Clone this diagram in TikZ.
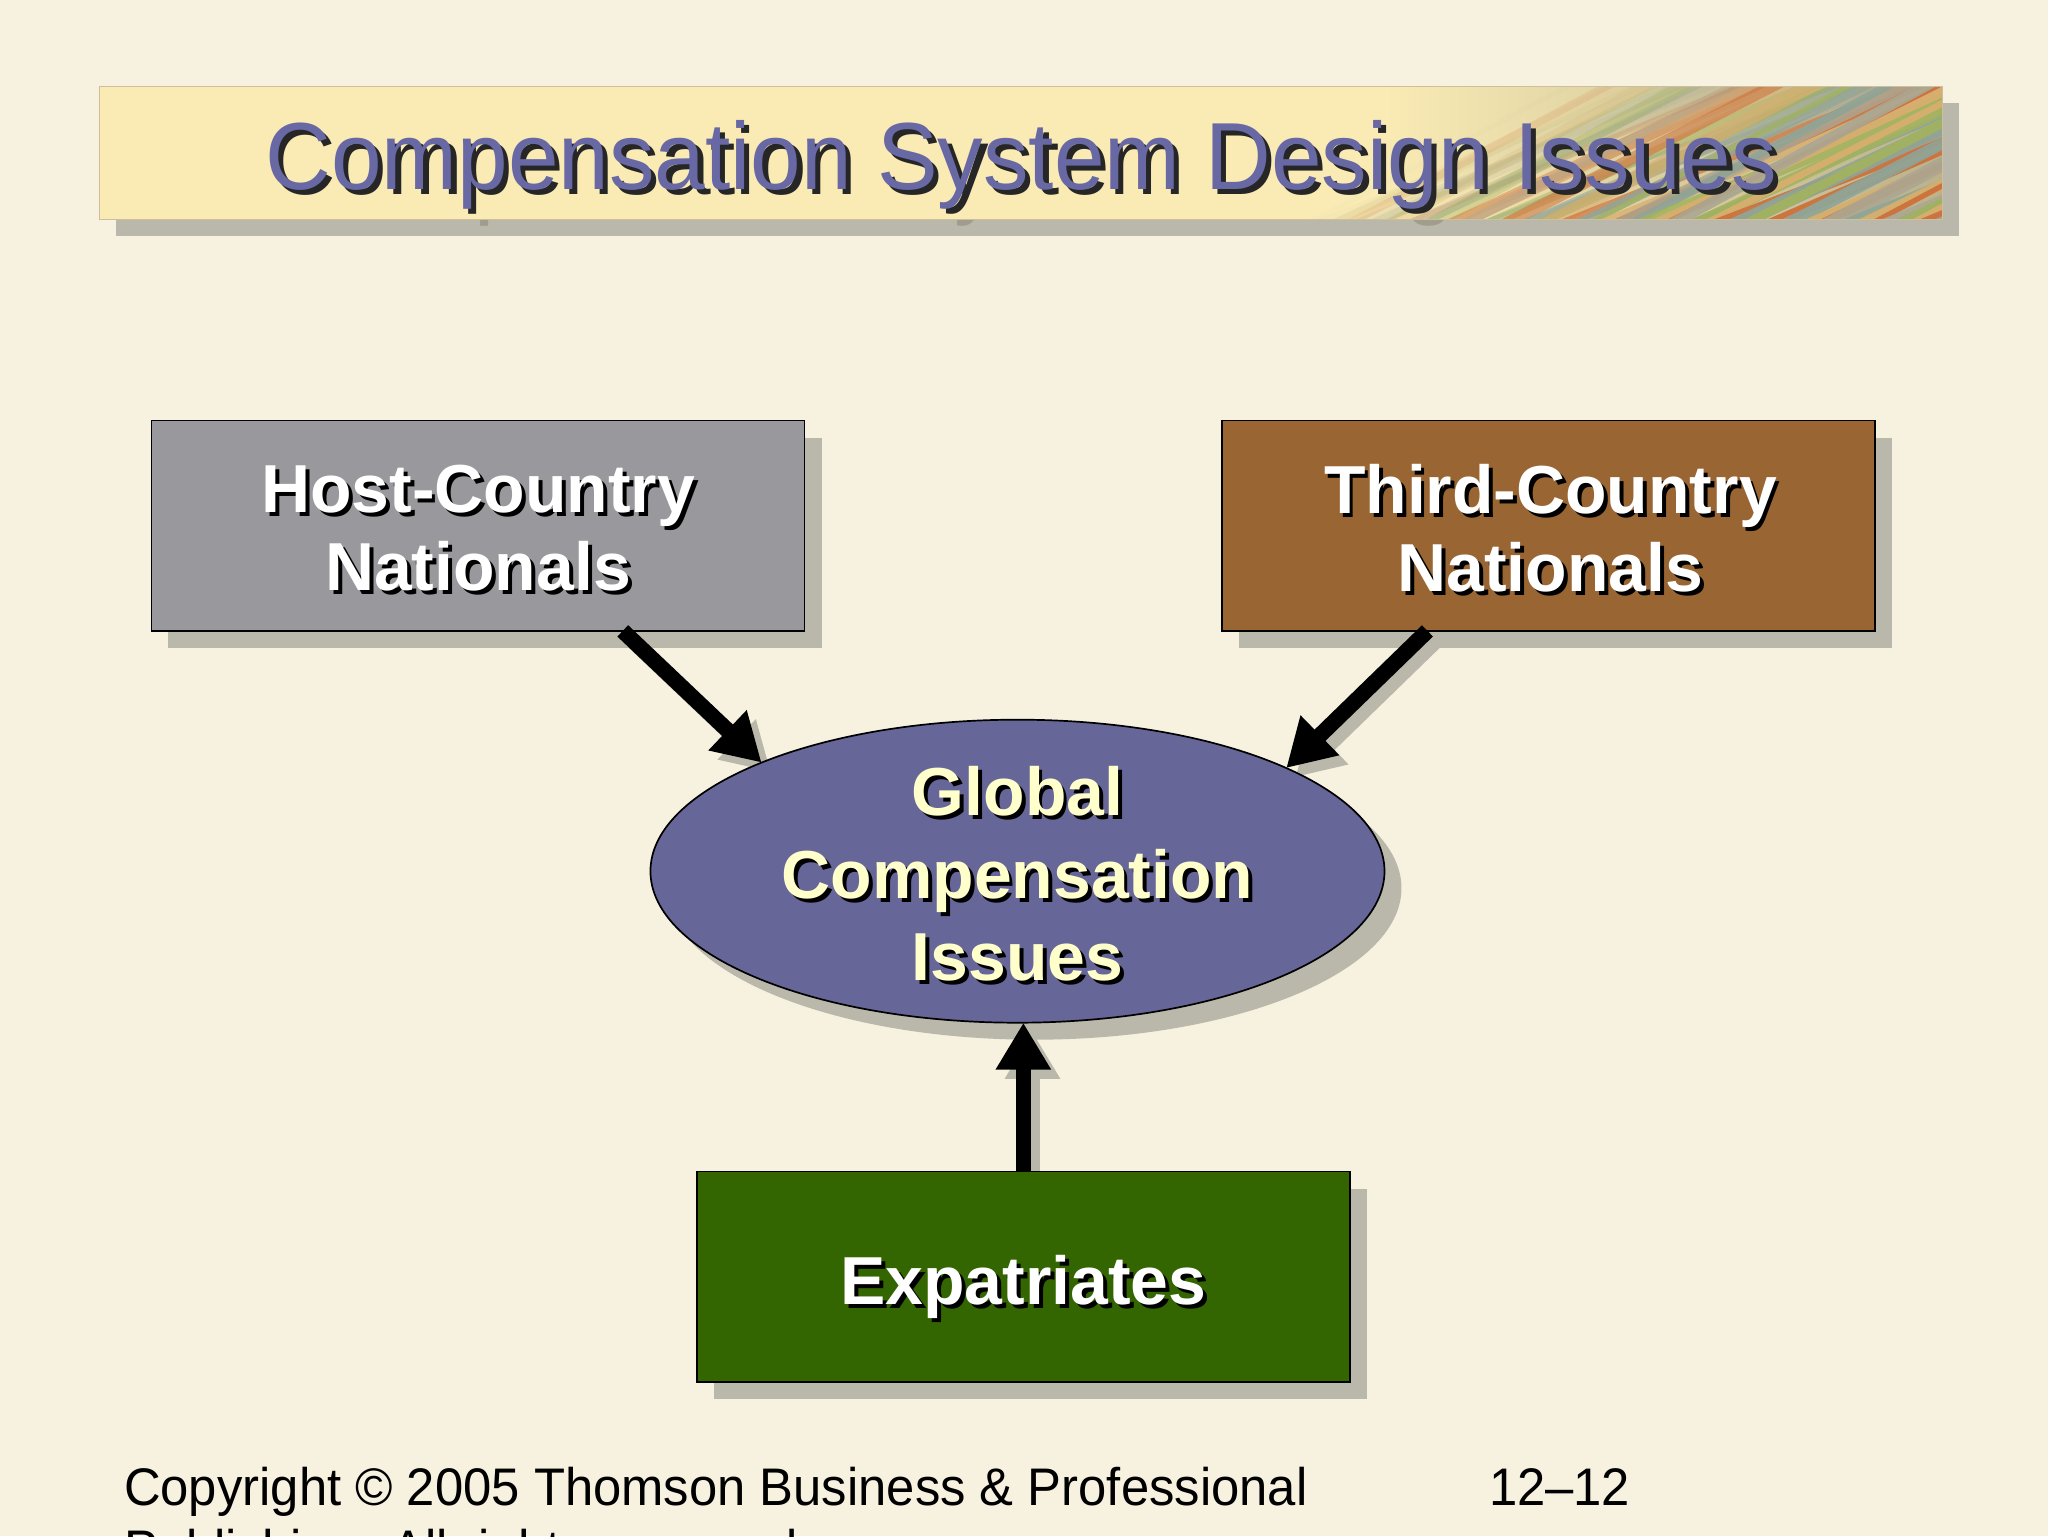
\documentclass[tikz,border=0pt]{standalone}
\usepackage{fontspec}
\setmainfont{Liberation Sans}
\newfontfamily\titlefont[FakeStretch=0.954]{Liberation Sans}
\newfontfamily\footfont[FakeStretch=0.96]{Liberation Sans}
\usetikzlibrary{shapes.geometric,shadows,arrows.meta,calc}
\definecolor{bg}{HTML}{F7F1DF}
\definecolor{shadowc}{HTML}{BAB7AB}
\definecolor{ghost}{HTML}{A09D8F}
\definecolor{hostc}{HTML}{99989C}
\definecolor{thirdc}{HTML}{996633}
\definecolor{expc}{HTML}{336600}
\definecolor{globc}{HTML}{666699}
\definecolor{titlec}{HTML}{6868A4}
\definecolor{globtext}{HTML}{FFFFCC}
\definecolor{bannerl}{HTML}{FAEBB4}
\definecolor{bannerr}{HTML}{B9B28C}
\definecolor{bannerline}{HTML}{CDBE9E}
\definecolor{tex0}{HTML}{CC6E3A}
\definecolor{tex1}{HTML}{A3B35E}
\definecolor{tex2}{HTML}{ABA793}
\definecolor{tex3}{HTML}{D9AE6E}
\definecolor{tex4}{HTML}{8FA496}
\pgfdeclarelayer{bglayer}
\pgfdeclarelayer{shlayer}
\pgfsetlayers{bglayer,shlayer,main}
\tikzset{
  box/.style={rectangle, draw=black, line width=1.3pt, inner sep=0pt, outer sep=0pt,
    minimum width=500pt, minimum height=161pt,
    drop shadow={shadow xshift=13pt, shadow yshift=-13pt, fill=shadowc, opacity=1}},
  oval/.style={ellipse, draw=black, line width=1.3pt, fill=globc, inner sep=0pt, outer sep=0pt,
    minimum width=562pt, minimum height=232pt,
    drop shadow={shadow xshift=13pt, shadow yshift=-13pt, fill=shadowc, opacity=1}},
  btxt/.style={font=\bfseries\fontsize{52}{60}\selectfont, align=center, inner sep=0pt, outer sep=0pt},
  otxt/.style={font=\bfseries\fontsize{52}{63}\selectfont, align=center, inner sep=0pt, outer sep=0pt},
  ttxt/.style={font=\titlefont\fontsize{73}{80}\selectfont, inner sep=0pt, outer sep=0pt, anchor=base},
  ftxt/.style={font=\footfont\fontsize{40.5}{47}\selectfont, text=black, inner sep=0pt, outer sep=0pt, anchor=base west},
  arr/.style={line width=12pt, draw=black, -{Triangle[length=36pt,width=40pt]}},
  arrsh/.style={line width=12pt, draw=shadowc, -{Triangle[length=36pt,width=40pt,fill=shadowc]}}
}
\begin{document}
\begin{tikzpicture}[x=1pt,y=-1pt]
\useasboundingbox (0,0) rectangle (1568,1176);
\clip (0,0) rectangle (1568,1176);
\begin{pgfonlayer}{bglayer}
  \fill[bg] (0,0) rectangle (1568,1176);
\end{pgfonlayer}

% ---- title banner ----
\fill[shadowc] (89,79) rectangle (1500,181);
\node[ttxt, text=ghost] (titleghost) at (795,158) {Compensation System Design Issues};
\node[rectangle, fill=bannerl, inner sep=0pt, outer sep=0pt,
      minimum width=1411pt, minimum height=102pt] (banner) at (781.5,117) {};
\shade[left color=bannerl, right color=bannerr] (1060,66) rectangle (1487,168);
\begin{scope}
  \clip (76,66) rectangle (1487,168);
  \foreach \i in {0,...,80} {
    \pgfmathtruncatemacro\c{mod(\i*7,5)}
    \pgfmathsetmacro\xx{900+8*\i}
    \pgfmathsetmacro\op{min(0.9,max(0,(\xx-980)/300))}
    \pgfmathsetmacro\lw{3+mod(\i*5,9)}
    \pgfmathsetmacro\dy{115+mod(\i*13,50)}
    \draw[line width=\lw pt, draw=tex\c, opacity=\op, line cap=round] (\xx,178) -- ++(300,-\dy);
  }
\end{scope}
\draw[bannerline, line width=1pt] (banner.north west) rectangle (banner.south east);
\node[ttxt, text=black!85] (titlesh) at (786,149) {Compensation System Design Issues};
\node[ttxt, text=titlec] (title) at (782,145) {Compensation System Design Issues};

% ---- boxes ----
\node[box, fill=hostc] (host) at (366,402.5) {};
\node[box, fill=thirdc] (third) at (1185.5,402.5) {};
\node[box, fill=expc] (exp) at (783.5,977.5) {};
\node[oval] (glob) at (779,667) {};

% ---- texts ----
\node[btxt, text=black] (hostsh) at (369,407.5) {Host-Country\\Nationals};
\node[btxt, text=white] (hosttx) at (366,404.5) {Host-Country\\Nationals};
\node[btxt, text=black] (thirdsh) at (1190,407.5) {Third-Country\\Nationals};
\node[btxt, text=white] (thirdtx) at (1187,404.5) {Third-Country\\Nationals};
\node[otxt, text=black] (globsh) at (782,672) {Global\\Compensation\\Issues};
\node[otxt, text=globtext] (globtx) at (779,669) {Global\\Compensation\\Issues};
\node[btxt, text=black, anchor=base] (expsh) at (786.5,1002) {Expatriates};
\node[btxt, text=white, anchor=base] (exptx) at (783.5,999) {Expatriates};

% ---- arrows ----
\begin{pgfonlayer}{shlayer}
  \draw[arrsh] ([shift={(7,7)}]host.-36.2) -- ([shift={(7,7)}]glob.157.6);
  \draw[arrsh] ([shift={(7,7)}]third.-139) -- ([shift={(7,7)}]glob.21.2);
  \draw[arrsh] ([shift={(7,7)}]exp.north) -- ([shift={(7,7)}]exp.north |- glob.south);
\end{pgfonlayer}
\draw[arr] (host.-36.2) -- (glob.157.6);
\draw[arr] (third.-139) -- (glob.21.2);
\draw[arr] (exp.north) -- (exp.north |- glob.south);

% ---- footer ----
\node[ftxt] (copy1) at (95,1153) {Copyright © 2005 Thomson Business \& Professional};
\node[ftxt] (copy2) at (95,1200) {Publishing. All rights reserved.};
\node[ftxt] (pagenum) at (1140,1153) {12–12};
\end{tikzpicture}
\end{document}
